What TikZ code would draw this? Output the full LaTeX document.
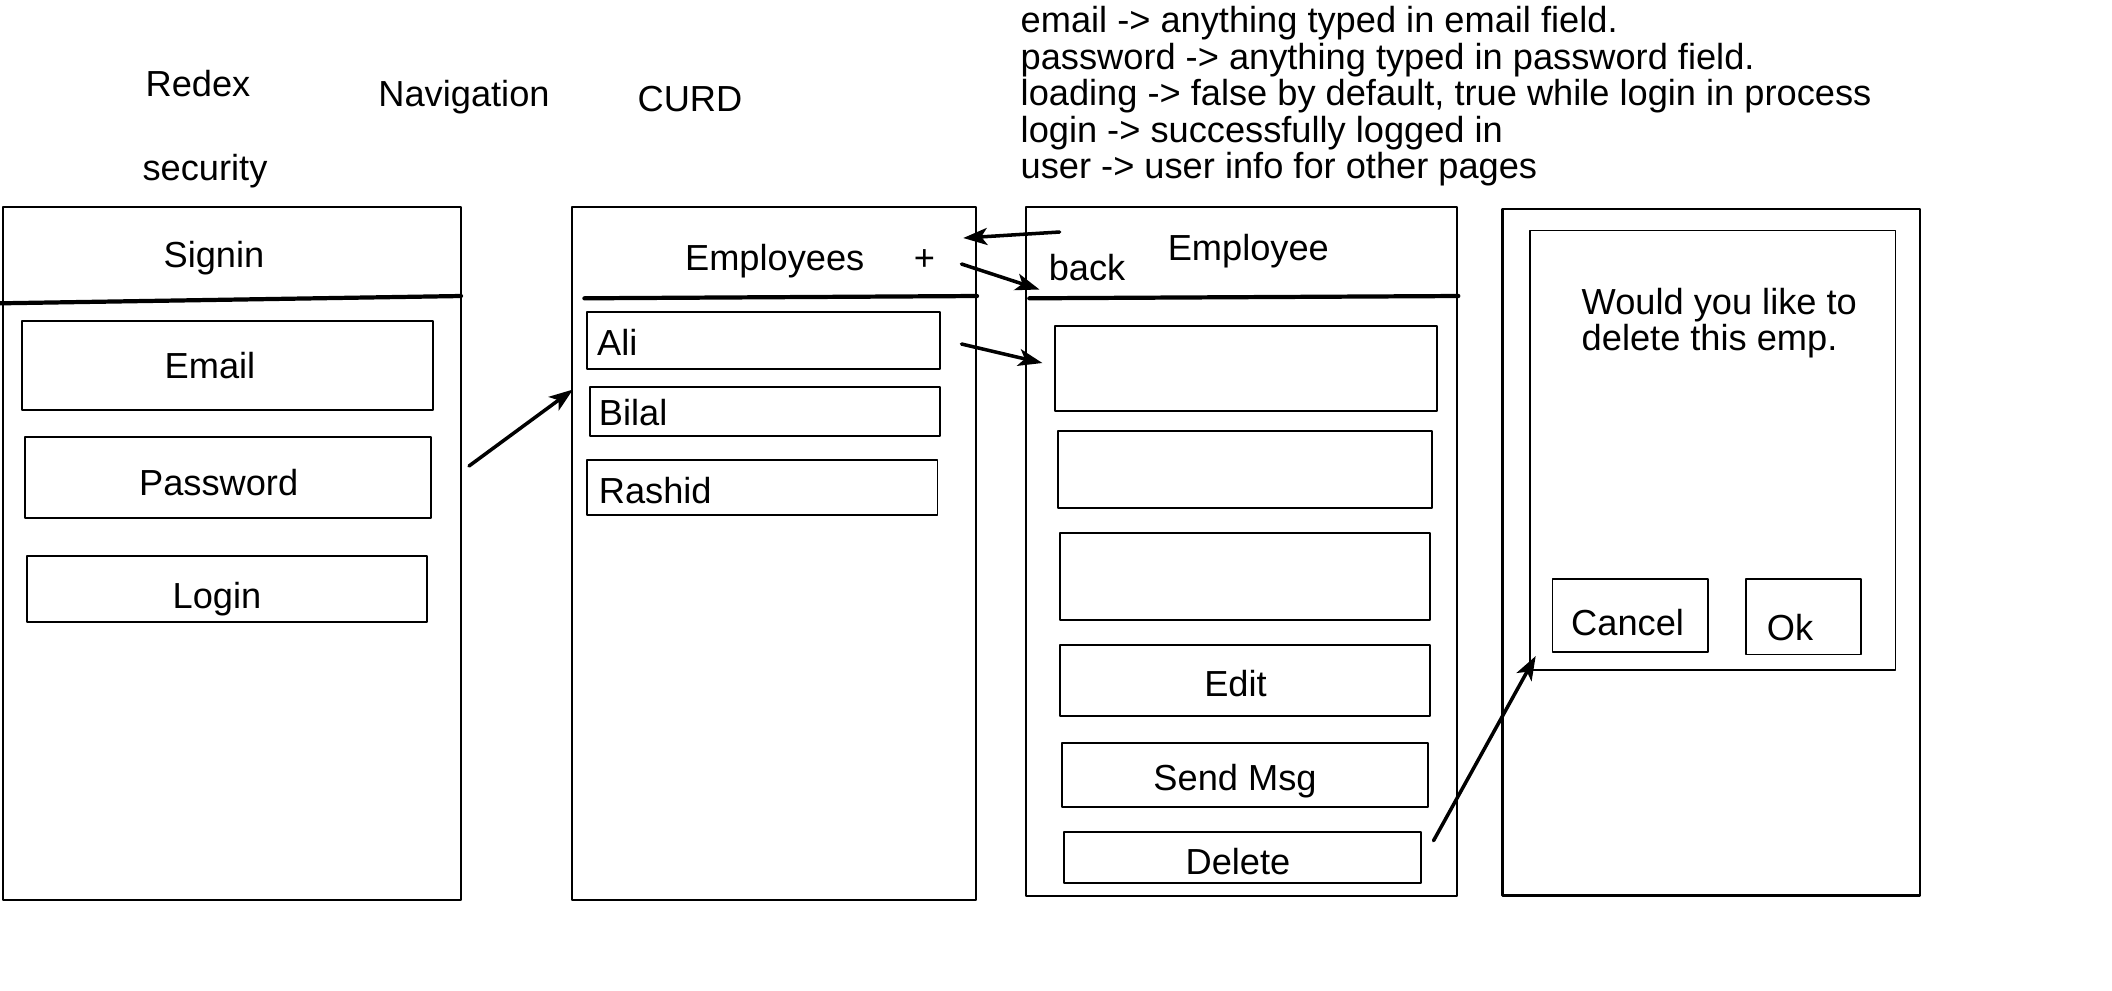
\documentclass[tikz,border=0pt]{standalone}
\usepackage{fontspec}
\setmainfont{Liberation Sans}
\usetikzlibrary{arrows.meta}

\begin{document}
\begin{tikzpicture}[x=0.01cm,y=-0.01cm,line join=round,
  font=\fontsize{10.3pt}{10.3pt}\selectfont,
  screen/.style={draw=black,line width=0.6pt},
  field/.style={draw=black,line width=0.5pt},
  bar/.style={line width=1.2pt,line cap=round},
  link/.style={-{Stealth[length=2.4mm,width=1.7mm,inset=0.6mm]},line width=1pt,line cap=round},
  txt/.style={inner sep=0pt,anchor=base},
  note/.style={inner sep=0pt,anchor=base west}]
  \useasboundingbox (0,0) rectangle (2112,990);

  % headings above the screens
  \node[txt] (redex) at (198,96) {Redex};
  \node[txt] (security) at (205,180) {security};
  \node[txt] (navigation) at (464,106) {Navigation};
  \node[txt] (curd) at (690,111) {CURD};
  \node[note] (stEmail) at (1020,32.5) {email -> anything typed in email field.};
  \node[note] (stPassword) at (1020,69) {password -> anything typed in password field.};
  \node[note] (stLoading) at (1020,105.5) {loading -> false by default, true while login in process};
  \node[note] (stLogin) at (1020,142) {login -> successfully logged in};
  \node[note] (stUser) at (1020,178.5) {user -> user info for other pages};

  % signin screen
  \draw[screen] (2.7,207.3) rectangle (461,900);
  \draw[bar] (0,303.3) -- (461,296);
  \node[txt] (signin) at (214,267.5) {Signin};
  \draw[field] (22.3,321) rectangle (433,410);
  \node[txt] (email) at (210,378.3) {Email};
  \draw[field] (24.7,437.3) rectangle (431.3,517.7);
  \node[txt] (password) at (218.7,495) {Password};
  \draw[field] (26.7,556) rectangle (426.7,622.3);
  \node[txt] (login) at (217,608) {Login};

  % employees list screen
  \draw[screen] (572,207.3) rectangle (976,900);
  \draw[bar] (584.4,298.3) -- (977,296);
  \node[txt] (employees) at (774.7,270) {Employees};
  \node[txt] (plus) at (924.5,270.5) {+};
  \draw[field] (587.2,312.3) rectangle (939.8,369.3);
  \node[note] (ali) at (596.5,355) {Ali};
  \draw[field] (590,387.3) rectangle (939.8,436);
  \node[note] (bilal) at (598.2,425) {Bilal};
  \draw[field] (587.2,460) rectangle (937.4,515);
  \node[note] (rashid) at (598.2,503.3) {Rashid};

  % employee detail screen
  \draw[screen] (1026,207.3) rectangle (1456.7,895.7);
  \draw[bar] (1029.3,298.3) -- (1458.3,296);
  \node[txt] (employee) at (1248.3,260.7) {Employee};
  \node[txt] (back) at (1087,280) {back};
  \draw[field] (1055.3,326) rectangle (1436.7,410.7);
  \draw[field] (1058,430.7) rectangle (1432,508.3);
  \draw[field] (1060,533.3) rectangle (1430,620);
  \draw[field] (1060,645) rectangle (1430,715.7);
  \node[txt] (edit) at (1235.5,696.7) {Edit};
  \draw[field] (1062,742.7) rectangle (1427.7,807);
  \node[txt] (sendmsg) at (1235,790) {Send Msg};
  \draw[field] (1064.3,831.7) rectangle (1421,882.7);
  \node[txt] (delete) at (1238,874) {Delete};

  % delete confirmation screen
  \draw[screen] (1502.5,209) rectangle (1919.6,895.5);
  \draw[field] (1529.6,230.4) rectangle (1895.4,670);
  \node[note] (askA) at (1581,314) {Would you like to};
  \node[note] (askB) at (1581,350.7) {delete this emp.};
  \draw[field] (1552.5,579) rectangle (1708,651.7);
  \node[txt] (cancel) at (1627.6,635.4) {Cancel};
  \draw[field] (1746,579) rectangle (1861,654.6);
  \node[txt] (ok) at (1790,640.5) {Ok};

  % navigation arrows
  \coordinate (loginOut) at (469,466);
  \coordinate (listIn) at (573,389.5);
  \coordinate (backOut) at (1059.6,232);
  \coordinate (backIn) at (963.2,238);
  \coordinate (plusOut) at (961.5,264);
  \coordinate (plusIn) at (1039.5,289.5);
  \coordinate (aliOut) at (961.5,344);
  \coordinate (aliIn) at (1042.4,363);
  \coordinate (deleteOut) at (1433.5,840.7);
  \coordinate (dialogIn) at (1535.7,656);
  \draw[link] (loginOut) -- (listIn);
  \draw[link] (backOut) -- (backIn);
  \draw[link] (plusOut) -- (plusIn);
  \draw[link] (aliOut) -- (aliIn);
  \draw[link] (deleteOut) -- (dialogIn);
\end{tikzpicture}
\end{document}
